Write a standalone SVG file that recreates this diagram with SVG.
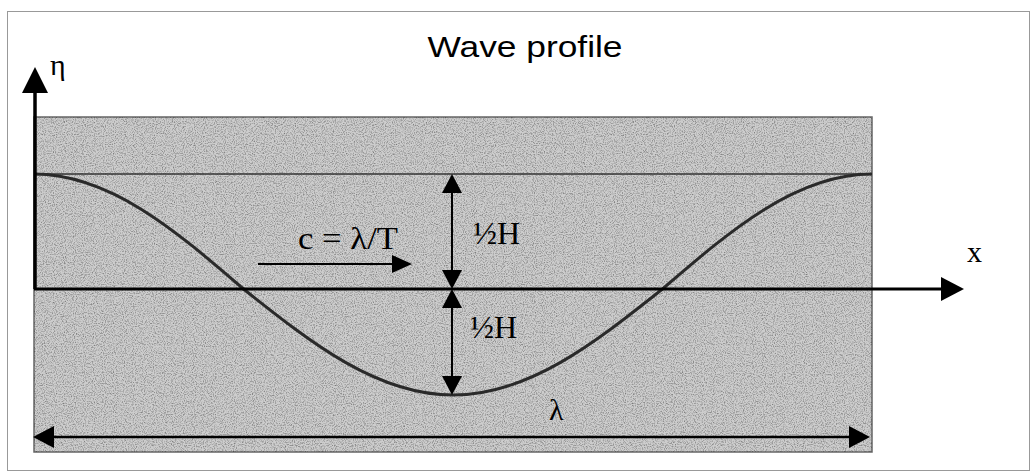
<svg xmlns="http://www.w3.org/2000/svg" width="1032" height="472" viewBox="0 0 1032 472">
<defs>
<style>
.serif{font-family:"Liberation Serif","Times New Roman",serif;fill:#000}
.sans{font-family:"Liberation Sans",Arial,sans-serif;fill:#000}
.head{fill:#000;stroke:none}
.ln{stroke:#000;fill:none}
</style>
<filter id="noise" x="0" y="0" width="100%" height="100%">
<feTurbulence type="fractalNoise" baseFrequency="0.9" numOctaves="2" seed="3" result="t"/>
<feColorMatrix in="t" type="matrix" values="0 0 0 0 0  0 0 0 0 0  0 0 0 0 0  0 0 0 -2.2 1.25" result="a"/>
<feComposite in="a" in2="SourceGraphic" operator="in"/>
</filter>
</defs>
<rect x="7.5" y="11.5" width="1022" height="459" fill="#fff" stroke="#999" stroke-width="1"/>
<g id="water">
<rect x="34" y="117" width="838" height="335" fill="#cdcdcd" stroke="#666" stroke-width="1.5"/>
<rect x="34" y="117" width="838" height="335" fill="#555" filter="url(#noise)" opacity="0.4"/>
<line x1="34" y1="174" x2="872" y2="174" stroke="#333" stroke-width="1.5"/>
</g>
<g id="wave">
<path d="M34,174 C109.8,174 175.2,230.1 243.5,289 C311.8,343.3 377.2,395 453,395 C528.8,395 594.2,343.3 662.5,289 C730.8,230.1 796.2,174 872,174" fill="none" stroke="#2a2a2a" stroke-width="3"/>
</g>
<g id="connectors">
<line class="ln" x1="35" y1="289" x2="35" y2="90" stroke-width="3.5"/>
<polygon class="head" points="35,67 22,93 48,93"/>
<line class="ln" x1="34" y1="289" x2="944" y2="289" stroke-width="3"/>
<polygon class="head" points="964,289 941,277 941,301"/>
<line class="ln" x1="258" y1="264" x2="395" y2="264" stroke-width="2"/>
<polygon class="head" points="412,264 392,255 392,273"/>
<line class="ln" x1="452" y1="190" x2="452" y2="273" stroke-width="2"/>
<polygon class="head" points="452,174 442,193 462,193"/>
<polygon class="head" points="452,289 442,270 462,270"/>
<line class="ln" x1="452" y1="305" x2="452" y2="379" stroke-width="2"/>
<polygon class="head" points="452,289 442,308 462,308"/>
<polygon class="head" points="452,395 442,376 462,376"/>
<line class="ln" x1="50" y1="437" x2="852" y2="437" stroke-width="2.5"/>
<polygon class="head" points="33,437 54,426 54,448"/>
<polygon class="head" points="870,437 849,426 849,448"/>
</g>
<g id="title"><text class="sans" x="525" y="57" font-size="30" text-anchor="middle" textLength="195" lengthAdjust="spacingAndGlyphs">Wave profile</text></g>
<g id="label-eta"><text class="serif" x="50" y="75" font-size="30">η</text></g>
<g id="label-x"><text class="serif" x="967" y="262" font-size="30">x</text></g>
<g id="label-c"><text class="serif" x="298" y="249" font-size="31" textLength="100" lengthAdjust="spacingAndGlyphs">c = λ/T</text></g>
<g id="label-halfH-upper"><text class="serif" x="473" y="244" font-size="32">½H</text></g>
<g id="label-halfH-lower"><text class="serif" x="470" y="338" font-size="32">½H</text></g>
<g id="label-lambda"><text class="serif" x="549" y="420" font-size="30">λ</text></g>
</svg>
